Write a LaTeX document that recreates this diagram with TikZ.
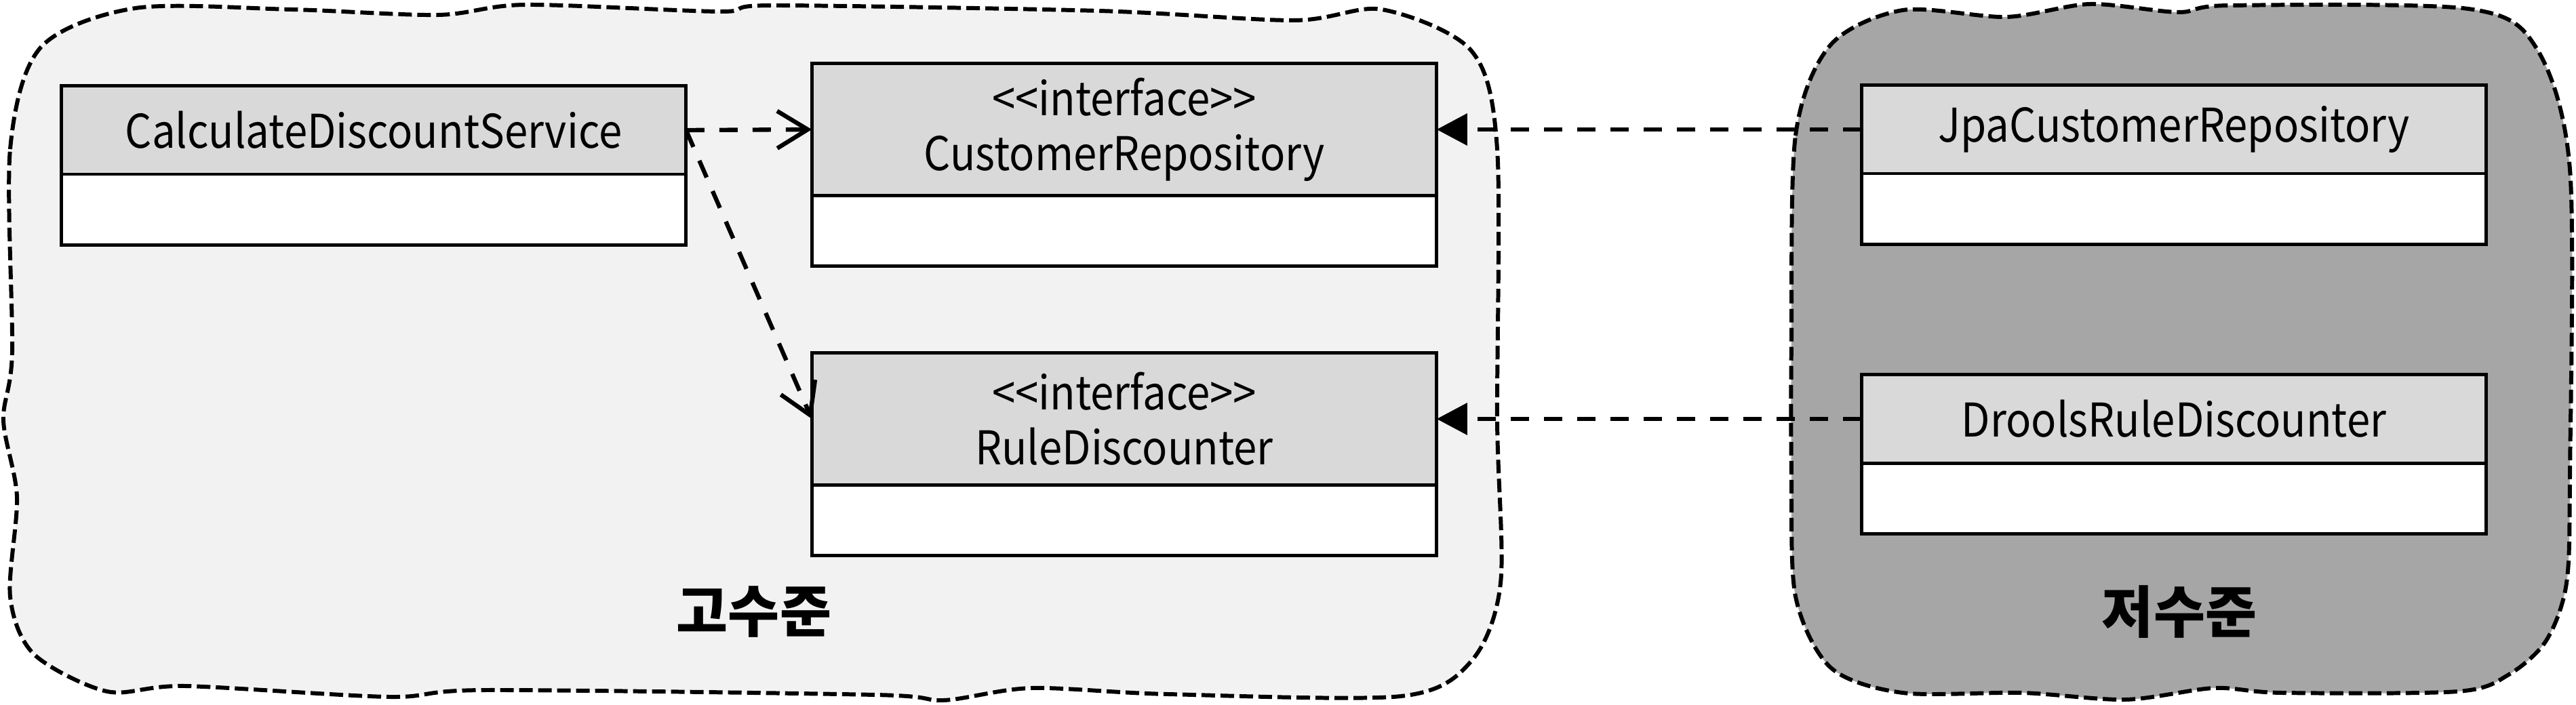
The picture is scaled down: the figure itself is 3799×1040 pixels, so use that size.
\documentclass[tikz,border=0pt]{standalone}
\usepackage{fontspec}
\setmainfont{Noto Sans CJK KR}
\newfontfamily\clsfont{Noto Sans CJK KR}[FakeStretch=0.9]
\usepackage{tikz}
\usetikzlibrary{positioning,arrows.meta}
\definecolor{hifill}{HTML}{F2F2F2}
\definecolor{lofill}{HTML}{A6A6A6}
\definecolor{hdr}{HTML}{D9D9D9}
\tikzset{
  clshead/.style={rectangle, draw=black, fill=hdr, line width=1.4pt, outer sep=0pt,
                  minimum width=9.21cm, minimum height=1.30cm, inner sep=0pt,
                  align=center, font=\clsfont\fontsize{19.5}{23}\selectfont},
  clshead2/.style={clshead, minimum height=1.95cm},
  clsbody/.style={rectangle, draw=black, fill=white, line width=1.4pt, outer sep=0pt,
                  minimum width=9.21cm, minimum height=1.04cm, inner sep=0pt},
  dep/.style={-{Straight Barb[length=4.5mm,width=5.5mm]}, dash pattern=on 2.7mm off 2.2mm,
              line width=1.8pt},
  impl/.style={-{Triangle[length=4.5mm,width=4.6mm]}, dash pattern=on 2.7mm off 2.2mm,
               line width=1.8pt},
  layer/.style={line width=1.7pt, dash pattern=on 2mm off 0.8mm,
                preaction={draw=white, line width=3.2pt}},
  lvl/.style={font=\bfseries\fontsize{23.5}{26}\selectfont}
}

\begin{document}
\begin{tikzpicture}[x=0.01cm, y=-0.01cm]
\useasboundingbox (0,0) rectangle (3799,1040);

% high level
\draw[layer, fill=hifill] plot[smooth cycle, tension=0.5] coordinates {
  (18,520) (15,220) (60,70) (200,12) (430,14) (646,22) (775,7) (1062,17)
  (1140,8) (1621,16) (1908,30) (2038,14) (2170,75) (2208,220) (2208,620)
  (2213,860) (2170,975) (2066,1027) (1722,1024) (1521,1015) (1392,1033)
  (1291,1025) (717,1018) (574,1028) (273,1012) (158,1020) (50,965) (15,880)
  (25,733) (5,620)};
% low level
\draw[layer, fill=lofill] plot[smooth cycle, tension=0.5] coordinates {
  (2642,500) (2648,200) (2699,67) (2806,15) (2959,25) (3082,6) (3212,18)
  (3288,8) (3640,13) (3740,70) (3790,250) (3790,700) (3785,860) (3755,945)
  (3700,995) (3625,1020) (3365,1022) (3265,1015) (3135,1032) (2982,1022)
  (2806,1022) (2700,985) (2648,880) (2642,700)};

\node[clshead] (cds) at (551,192) {CalculateDiscountService};
\node[clsbody, below=0pt of cds] (cdsb) {};
\node[clshead2] (cr) at (1658,191) {<\kern0pt<interface>\kern0pt>\\CustomerRepository};
\node[clsbody, below=0pt of cr] (crb) {};
\node[clshead2] (rd) at (1658,618) {<\kern0pt<interface>\kern0pt>\\RuleDiscounter};
\node[clsbody, below=0pt of rd] (rdb) {};
\node[clshead] (jcr) at (3206,191) {JpaCustomerRepository};
\node[clsbody, below=0pt of jcr] (jcrb) {};
\node[clshead] (drd) at (3206,618) {DroolsRuleDiscounter};
\node[clsbody, below=0pt of drd] (drdb) {};

\node[lvl] (high) at (1112,903) {고수준};
\node[lvl] (low) at (3214,903) {저수준};

\draw[dep] (cds.east) -- (cr.west);
\draw[dep] (cds.east) -- (rd.west);
\draw[impl] (jcr.west) -- (cr.east);
\draw[impl] (drd.west) -- (rd.east);
\end{tikzpicture}
\end{document}
